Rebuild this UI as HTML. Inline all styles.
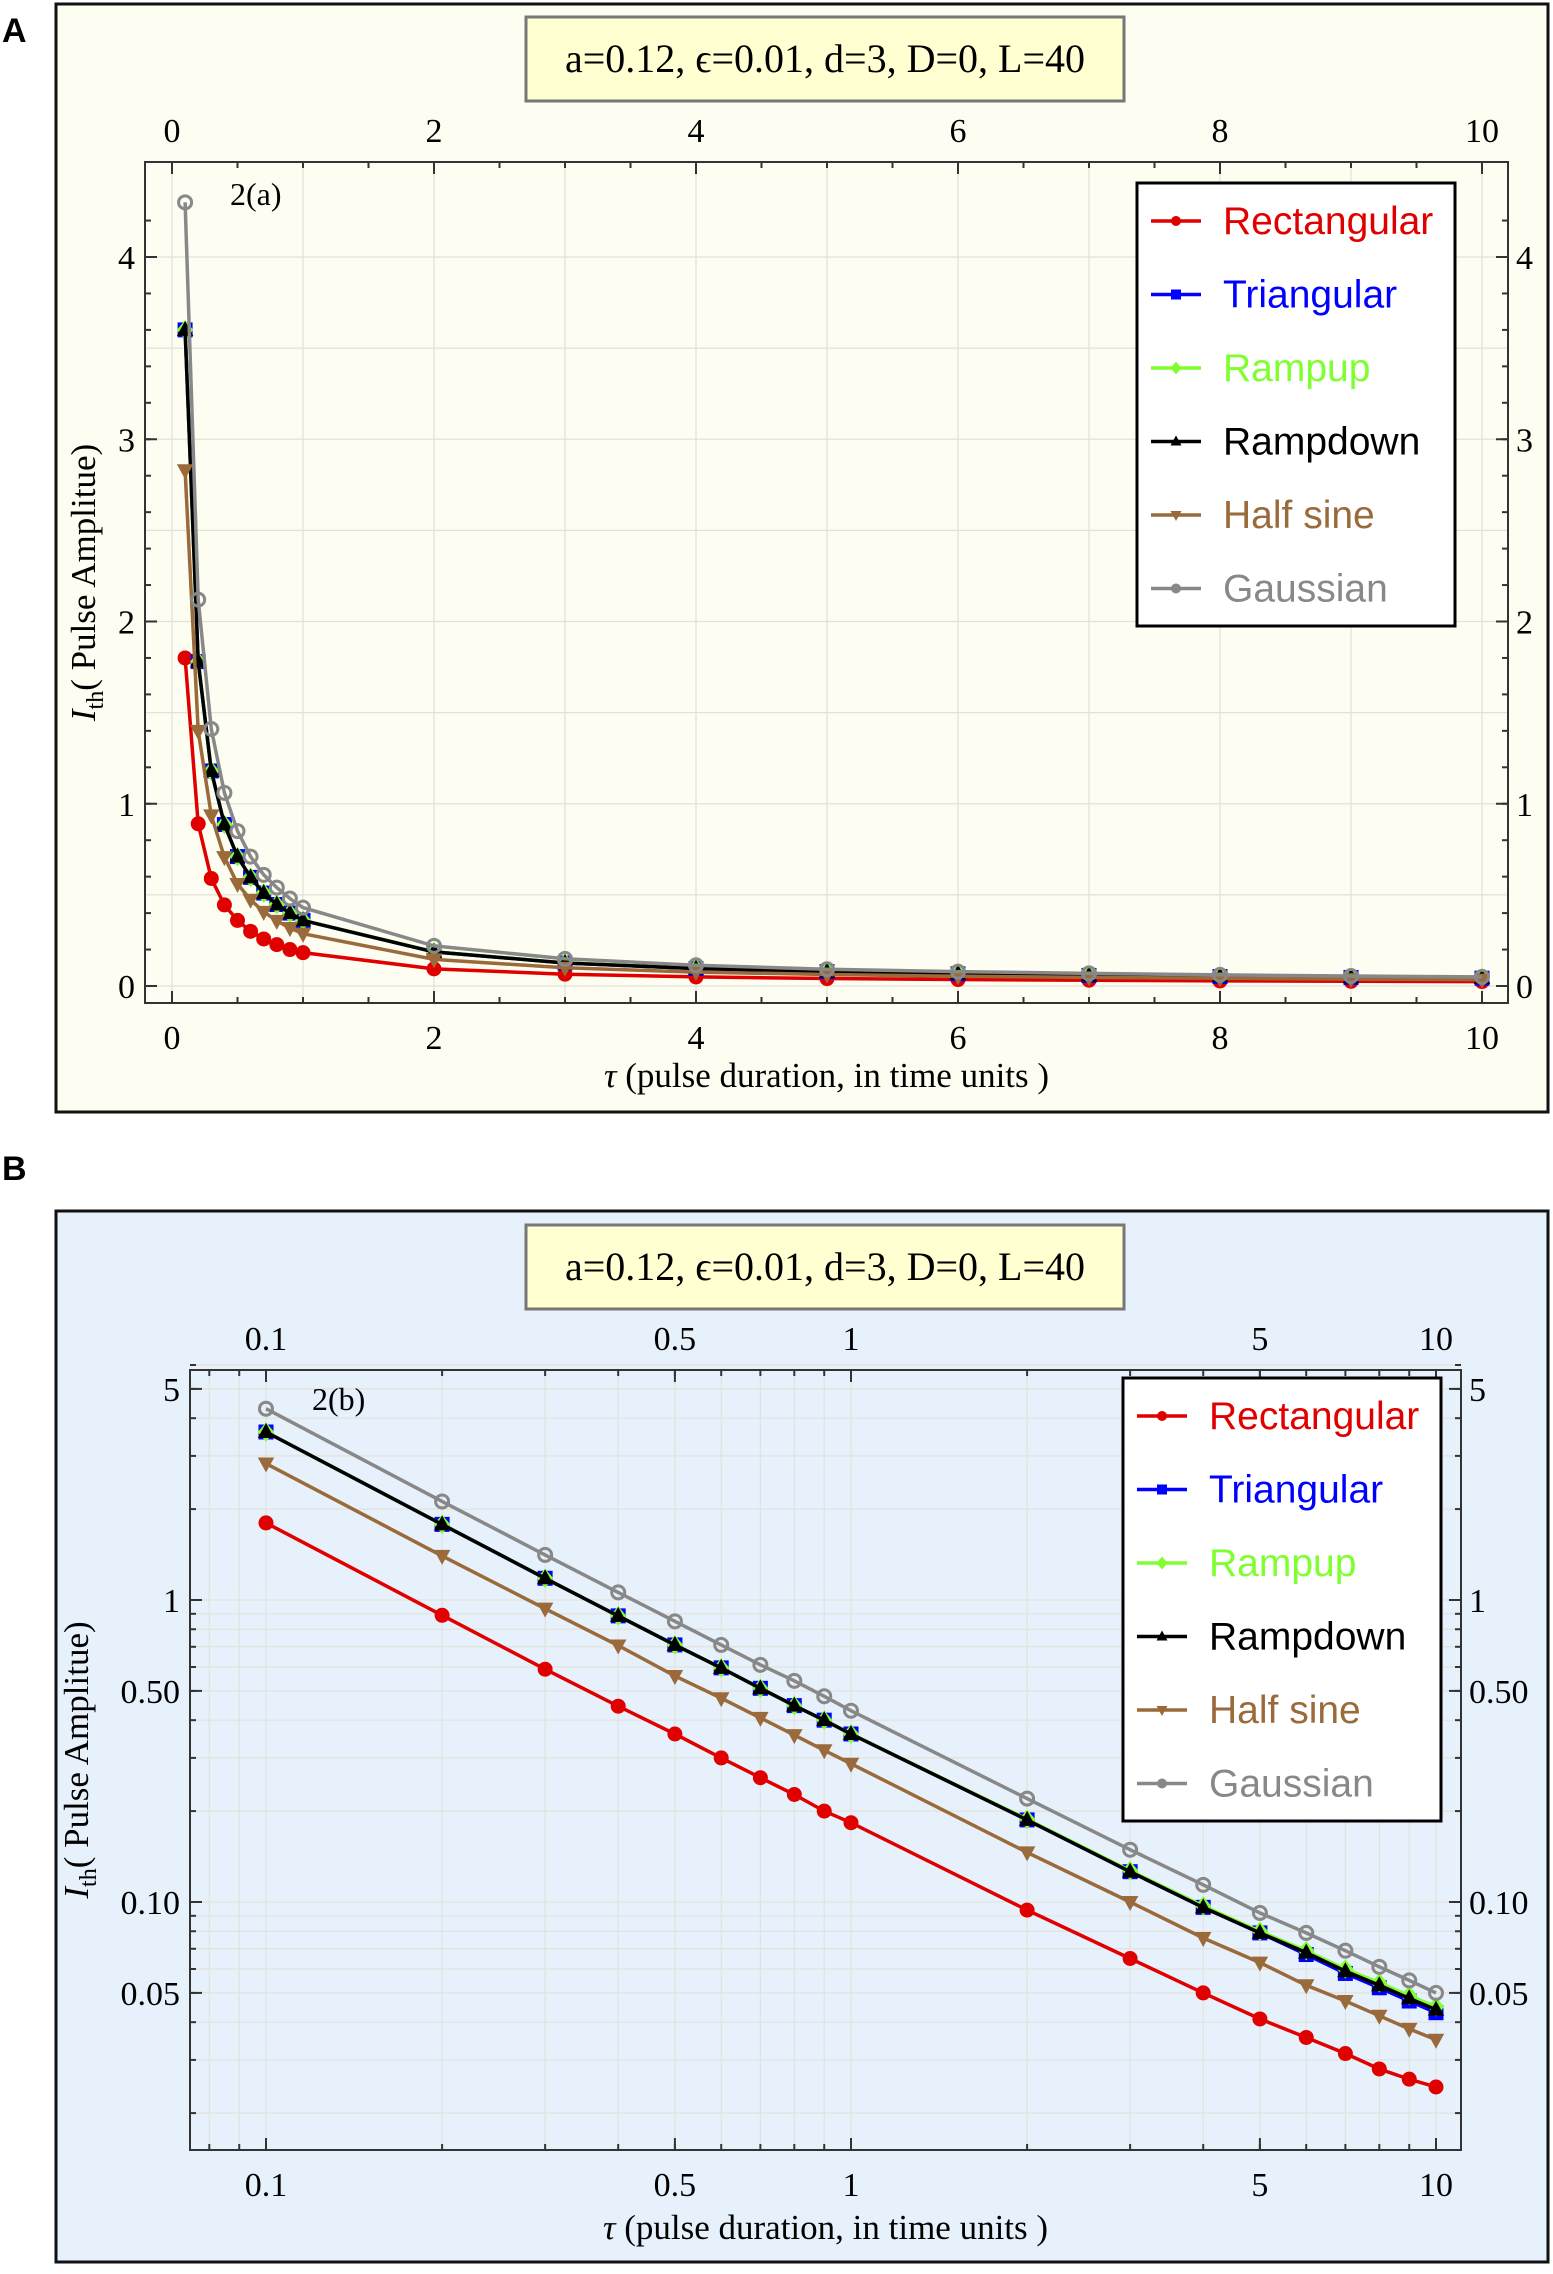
<!DOCTYPE html>
<html><head><meta charset="utf-8"><style>
html,body{margin:0;padding:0;background:#fff;}
svg text{font-family:"Liberation Serif",serif;}
</style></head><body>
<svg id="fig" width="1553" height="2269" xmlns="http://www.w3.org/2000/svg">
<text x="2" y="42" font-size="34" font-weight="bold" style="font-family:'Liberation Sans',sans-serif">A</text>
<text x="2" y="1180" font-size="34" font-weight="bold" style="font-family:'Liberation Sans',sans-serif">B</text>
<g id="pa"></g>
<g id="pb"></g>
</svg>
<script>
const tau = [0.1,0.2,0.3,0.4,0.5,0.6,0.7,0.8,0.9,1,2,3,4,5,6,7,8,9,10];
const rectangular = [1.8,0.89,0.59,0.445,0.36,0.30,0.258,0.227,0.20,0.183,0.094,0.065,0.050,0.041,0.0356,0.0315,0.028,0.0259,0.0244];
const triangular = [3.6,1.78,1.18,0.886,0.71,0.596,0.51,0.447,0.40,0.36,0.187,0.126,0.096,0.079,0.067,0.058,0.052,0.047,0.043];
const rampup = [3.6,1.78,1.18,0.886,0.71,0.596,0.51,0.447,0.40,0.36,0.188,0.127,0.097,0.080,0.069,0.060,0.054,0.049,0.045];
const rampdown = [3.6,1.78,1.18,0.886,0.71,0.596,0.51,0.447,0.40,0.36,0.187,0.126,0.096,0.079,0.068,0.059,0.053,0.048,0.044];
const halfSine = [2.83,1.40,0.936,0.707,0.56,0.473,0.407,0.357,0.318,0.287,0.146,0.10,0.076,0.063,0.053,0.047,0.042,0.038,0.035];
const gaussian = [4.3,2.12,1.41,1.06,0.85,0.71,0.61,0.54,0.48,0.43,0.22,0.149,0.114,0.092,0.079,0.069,0.061,0.055,0.05];
const seriesNames = ["Rectangular","Triangular","Rampup","Rampdown","Half sine","Gaussian"];
const linXTicks = [0,2,4,6,8,10];
const linYTicks = [0,1,2,3,4];
const logXTicks = [0.1,0.5,1,5,10];
const logXTickLabels = ["0.1","0.5","1","5","10"];
const logYTicks = [0.05,0.1,0.5,1,5];
const logYTickLabels = ["0.05","0.10","0.50","1","5"];

const allSeries=[rectangular,triangular,rampup,rampdown,halfSine,gaussian];
const colors=["#e00000","#0000ff","#80ff30","#000000","#9a6a3a","#888888"];
const markers=["circle","square","diamond","tri","tridown","ocircle"];
const NS="http://www.w3.org/2000/svg";
function mk(p,tag,at){const e=document.createElementNS(NS,tag);for(const k in at)e.setAttribute(k,at[k]);p.appendChild(e);return e;}

function marker(g,type,x,y,c,s){
  let e;
  if(type==="circle") e=mk(g,"circle",{cx:x,cy:y,r:s,fill:c});
  else if(type==="ocircle") e=mk(g,"circle",{cx:x,cy:y,r:s,fill:"none",stroke:c,"stroke-width":3});
  else if(type==="square") e=mk(g,"rect",{x:x-s,y:y-s,width:2*s,height:2*s,fill:c});
  else if(type==="diamond") e=mk(g,"polygon",{points:`${x},${y-s*1.3} ${x+s*1.1},${y} ${x},${y+s*1.3} ${x-s*1.1},${y}`,fill:c});
  else if(type==="tri") e=mk(g,"polygon",{points:`${x},${y-s*1.2} ${x+s*1.1},${y+s*0.8} ${x-s*1.1},${y+s*0.8}`,fill:c});
  else e=mk(g,"polygon",{points:`${x},${y+s*1.2} ${x+s*1.1},${y-s*0.8} ${x-s*1.1},${y-s*0.8}`,fill:c});
  
  
}

function panel(g,cfg){
  const f=mk(g,"rect",{x:cfg.fx,y:cfg.fy,width:cfg.fw,height:cfg.fh,fill:cfg.bg,stroke:"#111","stroke-width":3});
  
  const tb=mk(g,"rect",{x:526,y:cfg.ty,width:598,height:84,fill:"#ffffd2",stroke:"#777","stroke-width":3});
  
  const tt=mk(g,"text",{x:825,y:cfg.ty+55,"font-size":40,"text-anchor":"middle"});tt.textContent="a=0.12, \u03f5=0.01, d=3, D=0, L=40";
  
  const P=cfg.P;
  const gg=mk(g,"g",{stroke:"#e2e2dc","stroke-width":1.2});
  cfg.gridX.forEach(v=>{const x=cfg.X(v);mk(gg,"line",{x1:x,x2:x,y1:P.t,y2:P.b});});
  cfg.gridY.forEach(v=>{const y=cfg.Y(v);mk(gg,"line",{x1:P.l,x2:P.r,y1:y,y2:y});});
  const fr=mk(g,"rect",{x:P.l,y:P.t,width:P.r-P.l,height:P.b-P.t,fill:"none",stroke:"#333","stroke-width":2});
  
  const tk=mk(g,"g",{stroke:"#333","stroke-width":2});
  cfg.minorX.forEach(v=>{const x=cfg.X(v);mk(tk,"line",{x1:x,x2:x,y1:P.b,y2:P.b-6});mk(tk,"line",{x1:x,x2:x,y1:P.t,y2:P.t+6});});
  cfg.xt.forEach(v=>{const x=cfg.X(v);mk(tk,"line",{x1:x,x2:x,y1:P.b,y2:P.b-12});mk(tk,"line",{x1:x,x2:x,y1:P.t,y2:P.t+12});});
  cfg.minorY.forEach(v=>{const y=cfg.Y(v);mk(tk,"line",{x1:P.l,x2:P.l+6,y1:y,y2:y});mk(tk,"line",{x1:P.r,x2:P.r-6,y1:y,y2:y});});
  cfg.yt.forEach(v=>{const y=cfg.Y(v);mk(tk,"line",{x1:P.l,x2:P.l+12,y1:y,y2:y});mk(tk,"line",{x1:P.r,x2:P.r-12,y1:y,y2:y});});
  cfg.xt.forEach((v,i)=>{const x=cfg.X(v);
    const a=mk(g,"text",{x:x,y:P.b+46,"font-size":34,"text-anchor":"middle"});a.textContent=cfg.xl[i];
    
    const b=mk(g,"text",{x:x,y:cfg.topY,"font-size":34,"text-anchor":"middle"});b.textContent=cfg.xl[i];
    });
  cfg.yt.forEach((v,i)=>{const y=cfg.Y(v)+12;
    const a=mk(g,"text",{x:P.l-10,y:y,"font-size":34,"text-anchor":"end"});a.textContent=cfg.yl[i];
    
    const b=mk(g,"text",{x:P.r+8,y:y,"font-size":34,"text-anchor":"start"});b.textContent=cfg.yl[i];
    });
  const xl=mk(g,"text",{x:(P.l+P.r)/2,y:cfg.xly,"font-size":35,"text-anchor":"middle"});
  xl.innerHTML='<tspan font-style="italic">\u03c4</tspan> (pulse duration, in time units )';
  
  const yl=mk(g,"text",{x:0,y:0,"font-size":35,"text-anchor":"middle",transform:`translate(${cfg.ylx},${(P.t+P.b)/2}) rotate(-90)`});
  yl.innerHTML='<tspan font-style="italic">I</tspan><tspan font-size="24" dy="8">th</tspan><tspan dy="-8">( Pulse Amplitue)</tspan>';
  
  const lab=mk(g,"text",{x:cfg.lab[0],y:cfg.lab[1],"font-size":32});lab.textContent=cfg.labText;
  
  allSeries.forEach((s,k)=>{
    const sg=mk(g,"g",{});
    const pts=tau.map((t,i)=>cfg.X(t).toFixed(1)+","+cfg.Y(s[i]).toFixed(1)).join(" ");
    const pl=mk(sg,"polyline",{points:pts,fill:"none",stroke:colors[k],"stroke-width":3.5});
    
    tau.forEach((t,i)=>marker(sg,markers[k],cfg.X(t),cfg.Y(s[i]),colors[k],k===5?6.5:7.5));
  });
  const L=cfg.leg;
  const lg=mk(g,"g",{});
  mk(lg,"rect",{x:L[0],y:L[1],width:L[2],height:L[3],fill:"#fff",stroke:"#000","stroke-width":3});
  seriesNames.forEach((n,k)=>{
    const cy=L[1]+33+k*73.5;
    const eg=mk(lg,"g",{});
    mk(eg,"line",{x1:L[0]+14,x2:L[0]+64,y1:cy+5,y2:cy+5,stroke:colors[k],"stroke-width":3.5});
    marker(eg,markers[k]==="ocircle"?"circle":markers[k],L[0]+39,cy+5,colors[k],5);
    const t=mk(eg,"text",{x:L[0]+86,y:cy+18,"font-size":39,fill:colors[k],style:"font-family:'Liberation Sans',sans-serif"});t.textContent=n;
  });
}

const PA={l:145,r:1508,t:162,b:1003};
const XA=v=>172+v*131, YA=v=>986-v*182.25;
const gxA=[],mxA=[],gyA=[],myA=[];
for(let v=0;v<=10.001;v+=0.5){mxA.push(v);}
for(let v=0;v<=10;v+=1){gxA.push(v);}
for(let v=0;v<=4.4;v+=0.2){myA.push(+v.toFixed(1));}
for(let v=0;v<=4.4;v+=0.5){gyA.push(+v.toFixed(1));}
panel(document.getElementById('pa'),{fx:56,fy:4,fw:1492,fh:1108,bg:"#fdfdf1",ty:17,P:PA,X:XA,Y:YA,
  gridX:gxA,gridY:gyA,minorX:mxA,minorY:myA,xt:linXTicks,xl:linXTicks.map(String),yt:linYTicks,yl:linYTicks.map(String),
  topY:142,xly:1087,ylx:95,lab:[230,205],labText:"2(a)",leg:[1137,183,318,443]});

const PB={l:190,r:1461,t:1370,b:2150};
const XB=v=>266+Math.log10(v/0.1)*585, YB=v=>1600-Math.log10(v)*302;
const gxB=[0.08,0.09,0.1,0.2,0.3,0.4,0.5,0.6,0.7,0.8,0.9,1,2,3,4,5,6,7,8,9,10];
const gyB=[0.02,0.03,0.04,0.05,0.06,0.07,0.08,0.09,0.1,0.2,0.3,0.4,0.5,0.6,0.7,0.8,0.9,1,2,3,4,5,6];
panel(document.getElementById('pb'),{fx:56,fy:1211,fw:1492,fh:1051,bg:"#e7f1fc",ty:1225,P:PB,X:XB,Y:YB,
  gridX:gxB,gridY:gyB,minorX:gxB,minorY:gyB,xt:logXTicks,xl:logXTickLabels,yt:logYTicks,yl:logYTickLabels,
  topY:1350,xly:2239,ylx:88,lab:[312,1410],labText:"2(b)",leg:[1123,1378,318,443]});
</script>
</body></html>
